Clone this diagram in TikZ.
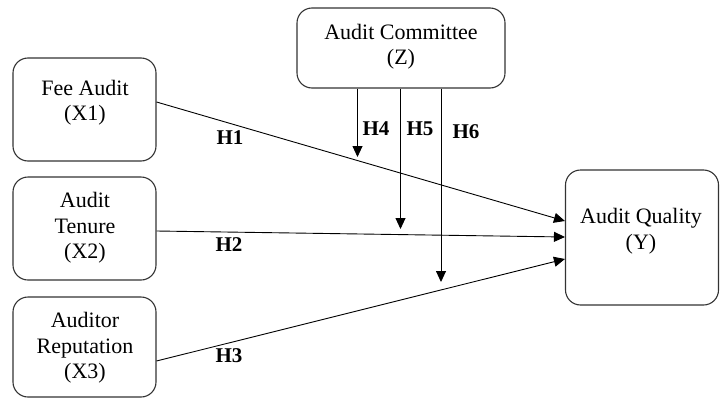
\documentclass[tikz,border=0pt]{standalone}
\usepackage{fontspec}
\setmainfont{Liberation Serif}
\usetikzlibrary{arrows.meta,calc}
\begin{document}
\begin{tikzpicture}[x=1pt,y=-1pt,
  box/.style={draw=black!80,line width=1.1pt,rounded corners=15pt,inner sep=0pt},
  txt/.style={align=center,font=\fontsize{22}{25.5}\selectfont,inner sep=0pt},
  hlab/.style={font=\fontsize{21}{25}\selectfont\bfseries,inner sep=0pt},
  arr/.style={draw=black,line width=0.9pt,-{Triangle[length=11pt,width=10pt]}}]
\useasboundingbox (0,0) rectangle (720,399);
% boxes
\node[box,minimum width=143pt,minimum height=103pt] (X1) at (84.5,109.5) {};
\node[box,minimum width=143pt,minimum height=103pt] (X2) at (84.5,228.5) {};
\node[box,minimum width=143pt,minimum height=100pt] (X3) at (84.5,347) {};
\node[box,minimum width=208pt,minimum height=80pt] (Z) at (401,48) {};
\node[box,minimum width=153pt,minimum height=135pt] (Y) at (642,237.5) {};
% texts
\node[txt] (tX1) at (85,102.5) {Fee Audit\\(X1)};
\node[txt] (tX2) at (85,228) {Audit\\Tenure\\(X2)};
\node[txt] (tX3) at (85,348) {Auditor\\Reputation\\(X3)};
\node[txt] (tZ) at (401,46.5) {Audit Committee\\(Z)};
\node[txt] (tY) at (641,231) {Audit Quality\\(Y)};
% main arrows
\draw[arr] ([yshift=7.5pt]X1.east) -- ([yshift=16.5pt]Y.west);
\draw[arr] ([yshift=-2.5pt]X2.east) -- ([yshift=0.5pt]Y.west);
\draw[arr] ([yshift=-14pt]X3.east) -- ([yshift=-21.5pt]Y.west);
% moderator arrows
\coordinate (t4) at (357.5,157);
\coordinate (t5) at (400.5,229);
\coordinate (t6) at (441,282);
\draw[arr] (Z.south -| t4) -- (t4);
\draw[arr] (Z.south -| t5) -- (t5);
\draw[arr] (Z.south -| t6) -- (t6);
% labels
\node[hlab] (H1) at (230,138) {H1};
\node[hlab] (H2) at (229,245) {H2};
\node[hlab] (H3) at (229,356) {H3};
\node[hlab] (H4) at (376,129) {H4};
\node[hlab] (H5) at (420,129) {H5};
\node[hlab] (H6) at (466,132) {H6};
\end{tikzpicture}
\end{document}
